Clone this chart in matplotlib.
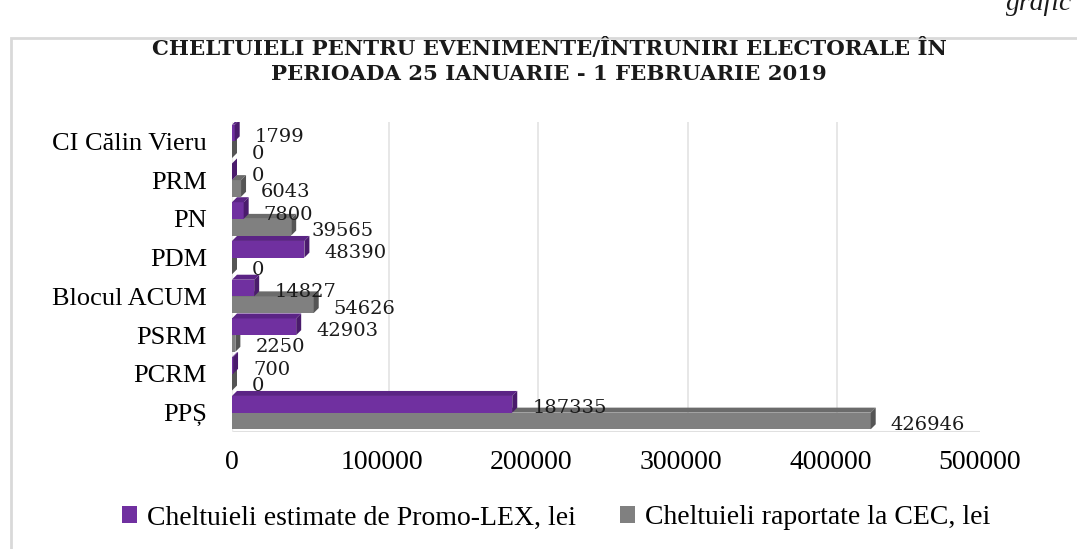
import matplotlib.pyplot as plt
from matplotlib.patches import Polygon, Rectangle

# data, bottom to top as drawn
categories = ["PPȘ", "PCRM", "PSRM", "Blocul ACUM", "PDM", "PN", "PRM", "CI Călin Vieru"]
promo_lex = [187335, 700, 42903, 14827, 48390, 7800, 0, 1799]
cec = [426946, 0, 2250, 54626, 0, 39565, 6043, 0]
xticks = [0, 100000, 200000, 300000, 400000, 500000]
series_names = ["Cheltuieli estimate de Promo-LEX, lei", "Cheltuieli raportate la CEC, lei"]

W, H, DPI = 1077, 549, 100
purple = ("#7030a0", "#5b2485", "#4a1b6c")  # front, top, side
gray = ("#808080", "#6b6b6b", "#555555")

fig = plt.figure(figsize=(W / DPI, H / DPI), dpi=DPI)

# plot area in pixels
x0, x1, y_top, y_bot = 232, 980, 122, 432
ax = fig.add_axes([x0 / W, (H - y_bot) / H, (x1 - x0) / W, (y_bot - y_top) / H])
ax.set_xlim(0, 500000)
ax.set_ylim(-0.5, len(categories) - 0.5)

# 3d depth converted to data units
px_x = (x1 - x0) / 500000
px_y = (y_bot - y_top) / len(categories)
ddx, ddy = 5 / px_x, 5 / px_y
bdx, bdy = 7 / px_x, 4 / px_y

# back wall gridlines
for t in xticks[1:]:
    ax.plot([t + bdx, t + bdx], [-0.5 + bdy, len(categories) - 0.5], color="#e3e3e3", lw=1.2, zorder=1)
# floor edges
ax.plot([0, 500000 + bdx], [-0.5, -0.5], color="#e0e0e0", lw=1.5, zorder=1)
ax.plot([0, 0], [-0.5, len(categories) - 0.5], color="#ececec", lw=1, zorder=1)


def bar3d(y, w, h, cols):
    front, top, side = cols
    ax.add_patch(Rectangle((0, y - h / 2), w, h, fc=front, ec="none"))
    ax.add_patch(Polygon([(0, y + h / 2), (ddx, y + h / 2 + ddy), (w + ddx, y + h / 2 + ddy), (w, y + h / 2)],
                         fc=top, ec="none"))
    ax.add_patch(Polygon([(w, y - h / 2), (w + ddx, y - h / 2 + ddy), (w + ddx, y + h / 2 + ddy), (w, y + h / 2)],
                         fc=side, ec="none"))


h = 0.43
for i in range(len(categories)):
    yg, yp = i - h / 2, i + h / 2
    bar3d(yg, cec[i], h, gray)
    bar3d(yp, promo_lex[i], h, purple)
    for v, yy in ((cec[i], yg), (promo_lex[i], yp)):
        ax.annotate(str(v), (v, yy), xytext=(20, -4), textcoords="offset pixels",
                    ha="left", va="center", fontsize=14, family="DejaVu Serif", color="#1a1a1a", zorder=5)

ax.set_yticks(range(len(categories)))
ax.set_yticklabels(categories, family="Liberation Serif", fontsize=19)
ax.set_xticks(xticks)
ax.set_xticklabels([str(t) for t in xticks], family="Liberation Serif", fontsize=20)
ax.tick_params(axis="y", length=0, pad=18)
ax.tick_params(axis="x", length=0, pad=13)
for s in ax.spines.values():
    s.set_visible(False)

# chart frame
fig.patches.append(Rectangle((11 / W, -0.01), 1.05, (H - 38) / H + 0.01, transform=fig.transFigure,
                             fill=False, ec="#d9d9d9", lw=2))

fig.text(549 / W, 1 - 61 / H, "CHELTUIELI PENTRU EVENIMENTE/ÎNTRUNIRI ELECTORALE ÎN\nPERIOADA 25 IANUARIE - 1 FEBRUARIE 2019",
         ha="center", va="center", fontsize=15.3, family="DejaVu Serif", weight="bold", color="#1a1a1a",
         linespacing=1.35)
fig.text(1006 / W, 1 - 10 / H, "grafic", ha="left", va="baseline", fontsize=20, family="Liberation Serif",
         style="italic", color="#1a1a1a")

handles = [Rectangle((0, 0), 1, 1, fc=purple[0]), Rectangle((0, 0), 1, 1, fc=gray[0])]
fig.legend(handles, series_names, loc="center", bbox_to_anchor=(556 / W, 1 - 518 / H), ncol=2, frameon=False,
           prop={"family": "Liberation Serif", "size": 20}, handlelength=0.55, handleheight=0.55,
           handletextpad=0.35, columnspacing=1.6)

fig.savefig("out.png", dpi=DPI)
